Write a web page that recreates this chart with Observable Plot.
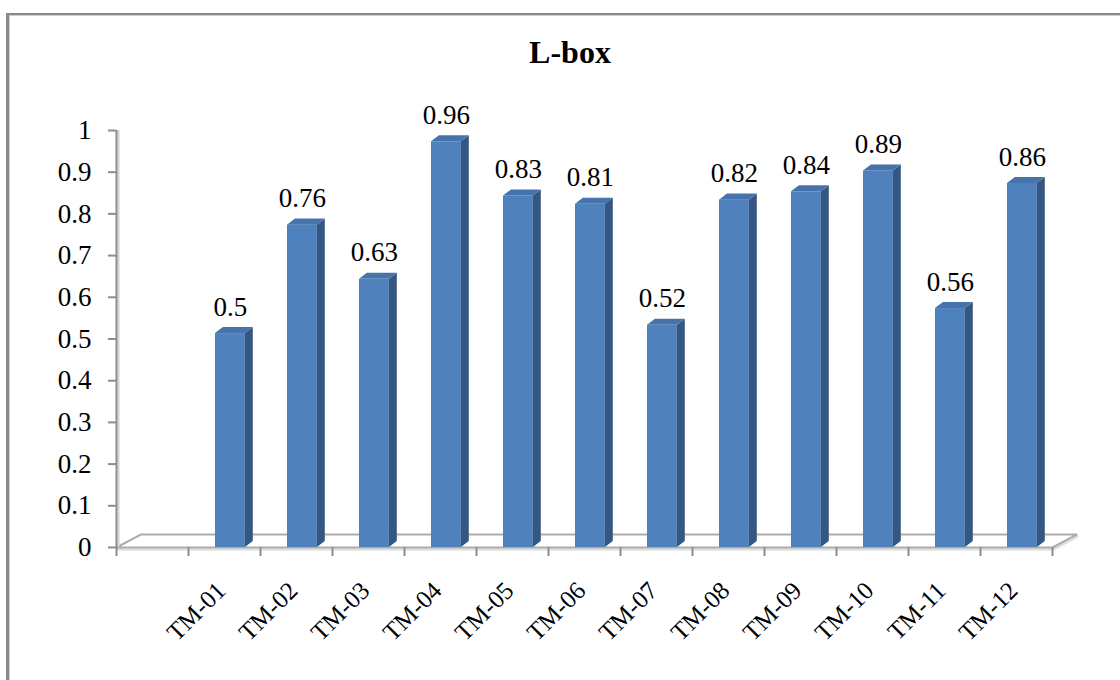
<!DOCTYPE html>
<html>
<head>
<meta charset="utf-8">
<script src="https://cdn.jsdelivr.net/npm/d3@7"></script>
<script src="https://cdn.jsdelivr.net/npm/@observablehq/plot@0.6"></script>
<style>
  html, body { margin: 0; padding: 0; background: #fff; }
  #wrap { position: relative; width: 1120px; height: 680px; overflow: hidden; background: #fff; }
  #frame { position: absolute; left: 6px; top: 13px; width: 3000px; height: 3000px;
           border-top: 2px solid #8a8a8a; border-left: 3px solid #8a8a8a; }
  #frame2 { position: absolute; left: 9px; top: 15px; width: 3000px; height: 3000px;
           border-top: 1px solid #cfcfcf; border-left: 1px solid #cfcfcf; }
  #title { position: absolute; left: 420px; width: 300px; top: 36px; text-align: center;
           font-family: "Liberation Serif", "Times New Roman", serif; font-weight: bold;
           font-size: 32px; line-height: 32px; color: #000; }
  #chart { position: absolute; left: 0; top: 0; }
</style>
</head>
<body>
<div id="wrap">
  <div id="frame"></div>
  <div id="frame2"></div>
  <div id="title">L-box</div>
  <div id="chart"></div>
</div>
<script>
// ---- data ----
const categories = ["TM-01","TM-02","TM-03","TM-04","TM-05","TM-06","TM-07","TM-08","TM-09","TM-10","TM-11","TM-12"];
const values = [0.5, 0.76, 0.63, 0.96, 0.83, 0.81, 0.52, 0.82, 0.84, 0.89, 0.56, 0.86];
const yTicks = [0, 0.1, 0.2, 0.3, 0.4, 0.5, 0.6, 0.7, 0.8, 0.9, 1];
const yTickLabels = ["0","0.1","0.2","0.3","0.4","0.5","0.6","0.7","0.8","0.9","1"];

// ---- 3D geometry (in scale units: one category slot = 1, value axis 0..1) ----
const SLOTS = categories.length + 1;       // first slot is left empty, as in the reference
const FRONT_X1 = 0.375, FRONT_X2 = 0.79;   // front face inside its slot
const DEPTH_X = 0.11, DEPTH_Y = 0.0145;    // bar depth
const LIFT = 0.013;                        // bars are drawn on the raised floor
const FLOOR_X = 0.335, FLOOR_Y = 0.031;    // floor depth

const bars = categories.map((c, i) => {
  const s = i + 1;
  return {cat: c, v: values[i], x1: s + FRONT_X1, x2: s + FRONT_X2, top: values[i] + LIFT, mid: s + 0.5};
});
const sides = bars.flatMap(b => [
  {id: b.cat, x: b.x2, y1: 0, y2: b.top},
  {id: b.cat, x: b.x2 + DEPTH_X, y1: DEPTH_Y, y2: b.top + DEPTH_Y}
]);
const tops = bars.flatMap(b => [
  {id: b.cat, y: b.top, x1: b.x1, x2: b.x2},
  {id: b.cat, y: b.top + DEPTH_Y, x1: b.x1 + DEPTH_X, x2: b.x2 + DEPTH_X}
]);
const floor = [
  {x: 0, y: 0}, {x: SLOTS, y: 0}, {x: SLOTS + FLOOR_X, y: FLOOR_Y}, {x: FLOOR_X, y: FLOOR_Y}, {x: 0, y: 0}
];
const xTicks = d3.range(0, SLOTS + 1);

const serif = '"Liberation Serif", "Times New Roman", serif';
const axisGray = "#8c8c8c";

const chart = Plot.plot({
  width: 1120,
  height: 680,
  marginLeft: 116,
  marginRight: 68,
  marginTop: 130,
  marginBottom: 133,
  x: {domain: [0, SLOTS], axis: null},
  y: {domain: [0, 1], axis: null},
  style: {fontFamily: serif, background: "transparent", overflow: "visible"},
  marks: [
    // floor
    Plot.line(floor, {x: "x", y: "y", stroke: "#dcdcdc", strokeWidth: 2, dy: 2, dx: 1, curve: "linear"}),
    Plot.line(floor, {x: "x", y: "y", stroke: "#ababab", strokeWidth: 2, fill: "white", curve: "linear"}),
    // y axis line
    Plot.ruleX([0], {y1: 0, y2: 1, stroke: "#d4d4d4", strokeWidth: 2, dx: 2}),
    Plot.ruleX([0], {y1: 0, y2: 1, stroke: axisGray, strokeWidth: 2}),
    Plot.axisY(yTicks, {
      anchor: "left", label: null, tickSize: 8, tickPadding: 17, fontSize: 27,
      stroke: axisGray, strokeWidth: 2, fill: "black",
      tickFormat: d => yTickLabels[yTicks.indexOf(d)]
    }),
    Plot.axisX(xTicks, {
      anchor: "bottom", label: null, tickSize: 9, tickFormat: () => "",
      stroke: axisGray, strokeWidth: 2
    }),
    // bars: front, side, top
    Plot.rect(bars, {x1: "x1", x2: "x2", y1: 0, y2: "top", fill: "#4f81bd"}),
    Plot.areaY(sides, {x: "x", y1: "y1", y2: "y2", z: "id", fill: "#34567f", curve: "linear"}),
    Plot.areaX(tops, {y: "y", x1: "x1", x2: "x2", z: "id", fill: "#4673ab", curve: "linear"}),
    // value labels
    Plot.text(bars, {x: d => (d.x1 + d.x2) / 2, y: "v", text: d => String(d.v), fontSize: 27,
      fill: "black", lineAnchor: "middle", dy: -32}),
    // category labels
    Plot.text(bars, {x: "mid", y: 0, text: "cat", rotate: -45, textAnchor: "end", lineAnchor: "middle",
      fontSize: 25, fill: "black", dx: -3, dy: 39})
  ]
});
document.getElementById("chart").appendChild(chart);
</script>
</body>
</html>
